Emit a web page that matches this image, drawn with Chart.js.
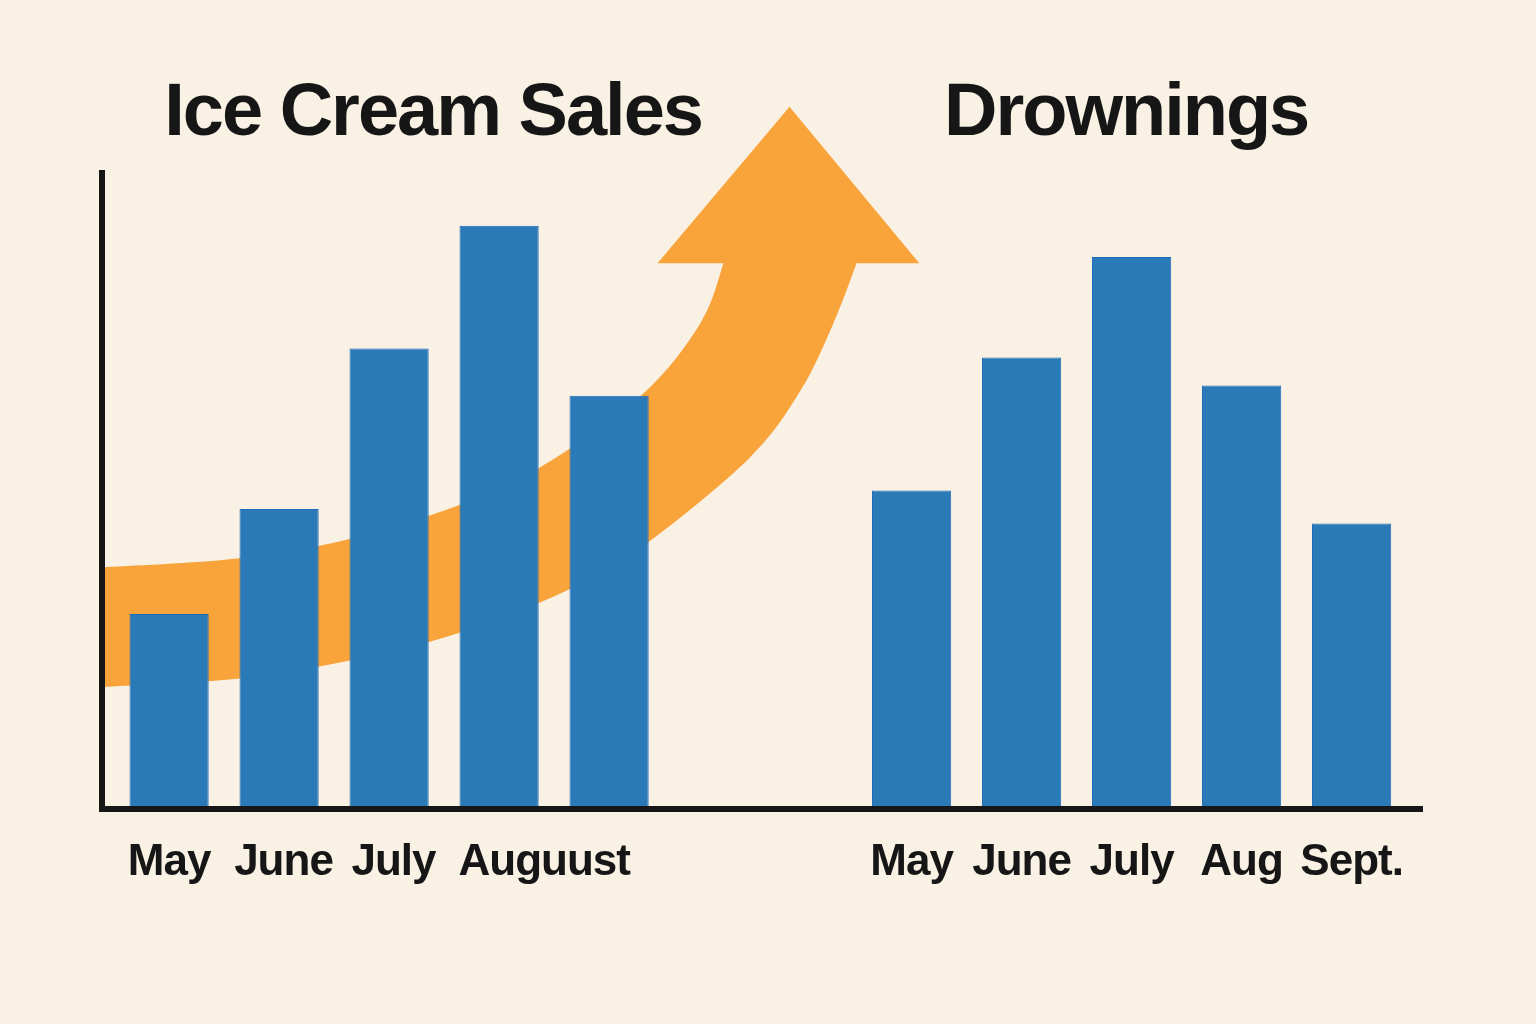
<!DOCTYPE html>
<html>
<head>
<meta charset="utf-8">
<title>Ice Cream Sales and Drownings</title>
<script src="https://cdn.jsdelivr.net/npm/chart.js@4.4.1/dist/chart.umd.min.js"></script>
<style>
  html, body { margin: 0; padding: 0; background: #f9f1e4; }
  #wrap { position: relative; width: 1536px; height: 1024px; }
</style>
</head>
<body>
<div id="wrap"><canvas id="chart"></canvas></div>
<script>
// values (no value axis, so units are arbitrary 0-100)
const iceMonths = ['May', 'June', 'July', 'Auguust'];
const iceSales = [30.7, 47.2, 72.4, 91.7, 65.0];
const drownMonths = ['May', 'June', 'July', 'Aug', 'Sept.'];
const drownings = [50.1, 71.0, 86.8, 66.6, 44.9];
const panelTitles = ['Ice Cream Sales', 'Drownings'];

const BLUE = '#2a7ab8';
const BLUE_EDGE = '#1f6cbd';
const ORANGE = '#f9a33b';
const INK = '#161616';
const FONT = '"Liberation Sans", Arial, Helvetica, sans-serif';

// smooth curve through a list of pixel points (catmull-rom -> bezier)
function splineThrough(ctx, pts) {
    for (let i = 0; i < pts.length - 1; i++) {
        const p0 = pts[i - 1] || pts[i], p1 = pts[i], p2 = pts[i + 1], p3 = pts[i + 2] || p2;
        ctx.bezierCurveTo(
            p1[0] + (p2[0] - p0[0]) / 6, p1[1] + (p2[1] - p0[1]) / 6,
            p2[0] - (p3[0] - p1[0]) / 6, p2[1] - (p3[1] - p1[1]) / 6,
            p2[0], p2[1]);
    }
}

// 1. Orange trend arrow, outline in x / y axis units, drawn behind the bars
const trendArrow = {
    id: 'trendArrow',
    beforeDatasetsDraw(chart) {
        const { ctx, scales: { x, y } } = chart;
        const toPx = p => [x.getPixelForValue(p[0]), y.getPixelForValue(p[1])];
        const upper = [[-0.61, 38.0], [0.62, 39.4], [1.62, 42.4], [2.62, 47.7], [3.35, 53.5],
                       [4.29, 65.0], [4.83, 76.4], [5.04, 85.8]].map(toPx);
        const head = [[4.44, 85.8], [5.64, 110.4], [6.82, 85.8]].map(toPx);
        const lower = [[6.25, 85.8], [6.04, 76.4], [5.74, 65.8], [5.28, 55.3], [4.35, 41.9],
                       [3.63, 34.5], [2.62, 27.6], [1.62, 23.3], [0.62, 20.5], [-0.61, 19.2]].map(toPx);
        ctx.save();
        ctx.beginPath();
        ctx.moveTo(upper[0][0], upper[0][1]);
        splineThrough(ctx, upper);
        head.forEach(p => ctx.lineTo(p[0], p[1]));
        ctx.lineTo(lower[0][0], lower[0][1]);
        splineThrough(ctx, lower);
        ctx.closePath();
        ctx.fillStyle = ORANGE;
        ctx.fill();
        ctx.restore();
    }
};

// 2. One big heading over each group of bars
const groupTitles = {
    id: 'groupTitles',
    afterDraw(chart) {
        const { ctx, chartArea, scales } = chart;
        ctx.save();
        ctx.font = 'bold 74px ' + FONT;
        ctx.fillStyle = INK;
        ctx.textAlign = 'center';
        ctx.textBaseline = 'alphabetic';
        ctx.letterSpacing = '-2px';
        ctx.fillText(panelTitles[0], scales.x.getPixelForValue(2.4), chartArea.top - 38);
        ctx.fillText(panelTitles[1], scales.x2.getPixelForValue(1.95), chartArea.top - 38);
        ctx.restore();
    }
};

// slightly tighter month labels
const tightLetters = {
    id: 'tightLetters',
    beforeDraw(chart) { chart.ctx.letterSpacing = '-1px'; }
};

// two bottom axes side by side (same stack), one per group
function monthAxis(min, max, tickAt, names) {
    return {
        type: 'linear',
        position: 'bottom',
        stack: 'months',
        stackWeight: 1,
        offset: false,
        min: min,
        max: max,
        grid: { display: false, drawTicks: false },
        border: { display: true, width: 6, color: INK, z: 1 },
        afterBuildTicks: axis => { axis.ticks = tickAt.map(value => ({ value })); },
        ticks: {
            autoSkip: false,
            maxRotation: 0,
            padding: 27,
            color: INK,
            font: { family: FONT, size: 44, weight: 'bold' },
            callback: (v, i) => names[i]
        }
    };
}

new Chart(document.getElementById('chart'), {
    type: 'bar',
    data: {
        datasets: [{
            label: panelTitles[0],
            data: iceSales.map((v, i) => ({ x: i, y: v })),
            xAxisID: 'x',
            grouped: false,
            backgroundColor: BLUE,
            borderColor: BLUE_EDGE,
            borderWidth: 1,
            categoryPercentage: 0.8,
            barPercentage: 0.9
        }, {
            label: panelTitles[1],
            data: drownings.map((v, i) => ({ x: i, y: v })),
            xAxisID: 'x2',
            grouped: false,
            backgroundColor: BLUE,
            borderColor: BLUE_EDGE,
            borderWidth: 1,
            categoryPercentage: 0.8,
            barPercentage: 0.9
        }]
    },
    options: {
        responsive: true,
        maintainAspectRatio: false,
        animation: false,
        devicePixelRatio: 1,
        layout: { padding: { left: 102, right: 114, top: 173, bottom: 108 } },
        plugins: {
            colors: { enabled: false },
            legend: { display: false },
            title: { display: false },
            tooltip: { enabled: false }
        },
        scales: {
            x: monthAxis(-0.61, 5.39, [0, 1.04, 2.04, 3.41], iceMonths),
            x2: monthAxis(-1.36, 4.64, [0, 1, 2, 3, 4], drownMonths),
            y: {
                type: 'linear',
                position: 'left',
                min: 0,
                max: 100,
                grid: { display: false, drawTicks: false },
                border: { display: true, width: 6, color: INK, z: 1 },
                ticks: { display: false }
            }
        }
    },
    plugins: [trendArrow, groupTitles, tightLetters]
});
</script>
</body>
</html>
